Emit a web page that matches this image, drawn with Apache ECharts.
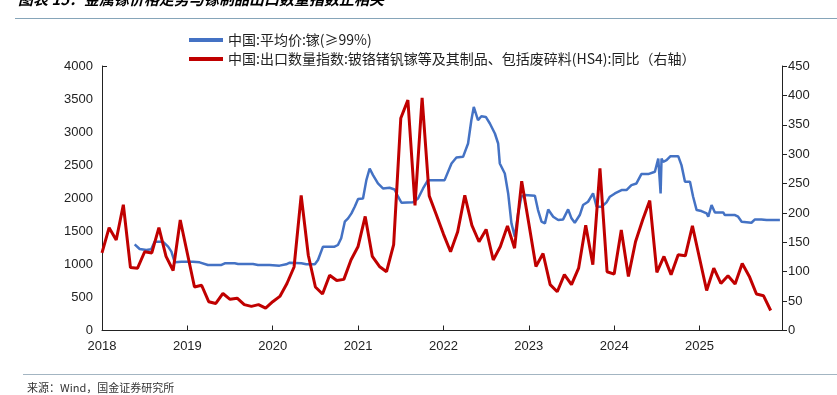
<!DOCTYPE html>
<html><head><meta charset="utf-8">
<script src="https://cdn.jsdelivr.net/npm/echarts@6/dist/echarts.min.js"></script>
<style>html,body{margin:0;padding:0;background:#fff}#c{width:837px;height:395px}</style>
</head><body><div id="c"></div>
<script>
var yearTicks = [2018, 2019, 2020, 2021, 2022, 2023, 2024, 2025];
var leftTicks = [0, 500, 1000, 1500, 2000, 2500, 3000, 3500, 4000];
var rightTicks = [0, 50, 100, 150, 200, 250, 300, 350, 400, 450];
var seriesNames = ['中国:平均价:镓(≥99%)', '中国:出口数量指数:铍铬锗钒镓等及其制品、包括废碎料(HS4):同比（右轴）'];

// Red: monthly export index YoY (right axis), 2018-01 .. 2025-11
var exportStart = '2018-01';
var exportYoY = [
  132,175,154,214,107,106,134,132,175,126,102,188,
  131,74,77,49,46,63,53,55,44,41,44,38,
  49,58,80,108,230,128,74,62,94,85,87,120,
  143,194,126,109,100,146,361,392,213,396,229,197,
  164,134,168,230,179,151,172,120,143,178,140,254,
  182,109,131,78,66,95,78,106,179,112,276,100,
  96,171,92,151,188,221,99,126,95,129,127,178,
  123,68,106,80,93,79,114,92,62,59,34
];

// Blue: gallium average price (left axis)
var priceDates = [
 '2018-05-19','2018-06-10','2018-07-08','2018-07-29','2018-08-13','2018-09-18','2018-10-10','2018-10-24','2018-11-08','2018-12-06',
 '2019-01-25','2019-02-23','2019-03-28','2019-05-25','2019-06-09','2019-07-21','2019-08-05','2019-10-08','2019-10-29','2019-12-18',
 '2020-01-30','2020-02-28','2020-03-13','2020-05-02','2020-05-23','2020-06-29','2020-07-12','2020-08-03','2020-09-22','2020-10-06',
 '2020-10-20','2020-11-05','2020-11-19','2020-12-03','2020-12-17','2021-01-01','2021-01-22','2021-02-06','2021-02-20','2021-03-04',
 '2021-03-25','2021-04-16','2021-05-14','2021-06-05','2021-06-20','2021-07-04','2021-08-23','2021-09-14','2021-10-05','2021-10-26',
 '2022-01-06','2022-02-05','2022-02-26','2022-03-24','2022-04-15','2022-04-29','2022-05-09','2022-05-27','2022-06-11','2022-06-30',
 '2022-07-17','2022-08-08','2022-08-22','2022-08-29','2022-09-20','2022-10-04','2022-10-18','2022-11-02','2022-11-16','2022-11-30',
 '2022-12-14','2023-01-27','2023-02-10','2023-02-25','2023-03-09','2023-03-23','2023-04-14','2023-05-05','2023-05-26','2023-06-17',
 '2023-07-01','2023-07-15','2023-08-06','2023-08-20','2023-09-11','2023-10-02','2023-10-17','2023-11-08','2023-11-29','2023-12-13',
 '2024-01-04','2024-02-02','2024-02-23','2024-03-14','2024-04-05','2024-04-26','2024-05-25','2024-06-23','2024-07-07','2024-07-17',
 '2024-07-21','2024-07-28','2024-08-12','2024-08-29','2024-10-01','2024-10-15','2024-10-30','2024-11-21','2024-12-04','2024-12-19',
 '2025-01-09','2025-02-01','2025-02-08','2025-02-22','2025-03-06','2025-04-11','2025-04-18','2025-05-31','2025-06-14','2025-06-29',
 '2025-08-10','2025-08-25','2025-09-22','2025-09-30','2025-10-14','2025-12-10'
];
var priceValues = [
 1303,1233,1218,1228,1343,1343,1268,1192,1031,1041,
 1041,1031,991,991,1016,1016,1006,1006,991,991,
 981,1001,1026,1016,1001,1001,1067,1268,1268,1293,
 1394,1645,1696,1771,1872,1987,1997,2274,2450,2350,
 2224,2148,2158,2133,2023,1932,1940,1997,2148,2274,
 2274,2526,2616,2626,2828,3180,3381,3180,3240,3230,
 3130,2979,2828,2526,2375,2073,1620,1419,1771,2023,
 2048,2038,1821,1645,1620,1831,1721,1670,1680,1831,
 1696,1630,1746,1897,1947,2073,1872,1872,1937,2023,
 2073,2123,2123,2199,2224,2365,2365,2400,2601,2073,
 2601,2551,2576,2636,2636,2501,2249,2249,2023,1821,
 1806,1771,1721,1897,1786,1786,1746,1746,1721,1645,
 1630,1680,1680,1696,1670,1670
];

function decYear(s) {
  var p = s.split('-');
  var y = +p[0], m = +p[1], d = p.length > 2 ? +p[2] : 1;
  return y + (m - 1) / 12 + (d - 1) / 365;
}
var redData = exportYoY.map(function (v, i) {
  var y0 = +exportStart.split('-')[0];
  return [y0 + i / 12, v];
});
var blueData = priceDates.map(function (d, i) { return [decYear(d), priceValues[i]]; });

var fontCJK = '"Noto Sans CJK SC", "Liberation Sans", sans-serif';
var chart = echarts.init(document.getElementById('c'), null, {renderer: 'canvas'});
chart.setOption({
  animation: false,
  backgroundColor: '#fff',
  textStyle: {fontFamily: '"Liberation Sans", Arial, sans-serif'},
  graphic: [
    {type: 'text', left: 18, top: -8, style: {text: '图表 15：金属镓价格走势与镓制品出口数量指数正相关', font: 'italic bold 15px ' + fontCJK, fill: '#000'}},
    {type: 'line', shape: {x1: 15, y1: 18.5, x2: 837, y2: 18.5}, style: {stroke: '#86a5b9', lineWidth: 1}},
    {type: 'line', shape: {x1: 23, y1: 374.5, x2: 837, y2: 374.5}, style: {stroke: '#a3b5c2', lineWidth: 1}},
    {type: 'text', left: 27, top: 382, style: {text: '来源：Wind，国金证券研究所', font: '11px ' + fontCJK, fill: '#333'}}
  ],
  legend: {
    orient: 'vertical', left: 184, top: 28, itemGap: 5,
    itemWidth: 34, itemHeight: 4, icon: 'rect',
    textStyle: {fontFamily: fontCJK, fontSize: 14, color: '#222'},
    data: seriesNames
  },
  grid: {left: 102, right: 55, top: 66, bottom: 64.5},
  xAxis: {
    type: 'value', min: yearTicks[0], max: 2025.966, interval: 1,
    axisLine: {lineStyle: {color: '#222', width: 1}},
    axisTick: {inside: true, length: 5, lineStyle: {color: '#222'}},
    axisLabel: {color: '#222', fontSize: 13, margin: 9, showMaxLabel: false,
      formatter: function (v) { return yearTicks.indexOf(v) >= 0 ? String(v) : ''; }},
    splitLine: {show: false}
  },
  yAxis: [
    {type: 'value', min: leftTicks[0], max: leftTicks[leftTicks.length - 1], interval: 500,
      axisLine: {show: true, lineStyle: {color: '#222'}},
      axisTick: {show: true, inside: true, length: 5, customValues: [4000], lineStyle: {color: '#222'}},
      axisLabel: {color: '#222', fontSize: 13, margin: 9, formatter: function (v) { return String(v); }},
      splitLine: {show: false}},
    {type: 'value', min: rightTicks[0], max: rightTicks[rightTicks.length - 1], interval: 50,
      axisLine: {show: true, lineStyle: {color: '#222'}},
      axisTick: {show: true, inside: false, length: 5, lineStyle: {color: '#222'}},
      axisLabel: {color: '#222', fontSize: 13, margin: 6, formatter: function (v) { return String(v); }},
      splitLine: {show: false}}
  ],
  series: [
    {name: seriesNames[0], type: 'line', yAxisIndex: 0, data: blueData, showSymbol: false, symbol: 'none',
      lineStyle: {color: '#4472c4', width: 2.5}, itemStyle: {color: '#4472c4'}, z: 2},
    {name: seriesNames[1], type: 'line', yAxisIndex: 1, data: redData, showSymbol: false, symbol: 'none',
      lineStyle: {color: '#c00000', width: 3}, itemStyle: {color: '#c00000'}, z: 3}
  ]
});
</script></body></html>
